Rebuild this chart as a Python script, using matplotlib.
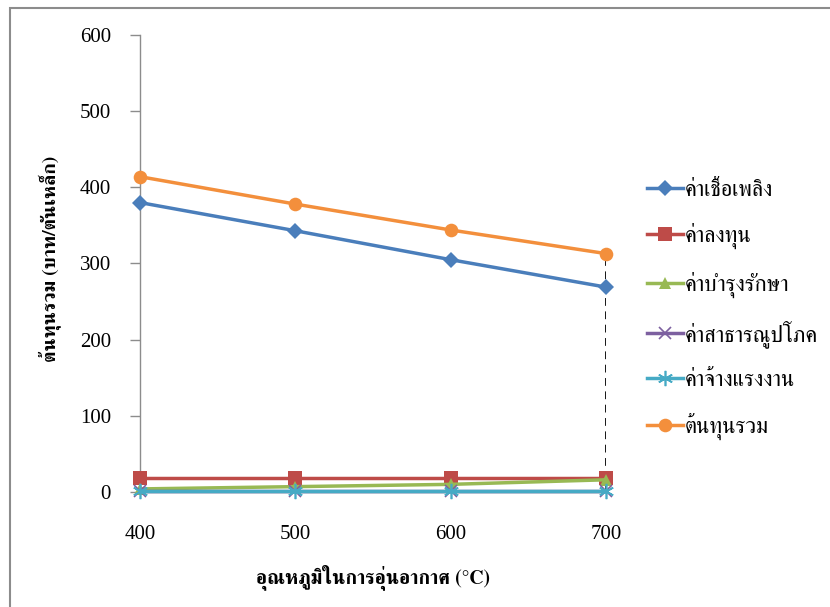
import matplotlib
matplotlib.use("Agg")
import matplotlib.pyplot as plt
from matplotlib.lines import Line2D

# อุณหภูมิอุ่นอากาศ (°C)
temps = [400, 500, 600, 700]

# ต้นทุนแต่ละรายการ (บาท/ตันเหล็ก)
fuel = [380, 343, 305, 269]
invest = [19, 19, 19, 19]
maint = [4, 7, 10, 16]
utility = [1, 1, 1, 1]
labor = [1, 1, 1, 1]
total = [414, 378, 344, 313]

names = ["ค่าเชื้อเพลิง", "ค่าลงทุน", "ค่าบำรุงรักษา", "ค่าสาธารณูปโภค", "ค่าจ้างแรงงาน", "ต้นทุนรวม"]
series = [fuel, invest, maint, utility, labor, total]
colors = ["#4A7EBB", "#BE4B48", "#98B954", "#7D60A0", "#46AAC5", "#F38F3C"]
markers = ["D", "s", "^", "x", (6, 2, 0), "o"]
msizes = [8.5, 9.5, 9, 9, 11, 9.8]

serif = ["Liberation Serif", "FreeSerif", "DejaVu Serif"]
thai = ["FreeSerif", "Liberation Serif"]


def edge_width(m):
    # เครื่องหมายแบบเส้น (x, *) ต้องมีความหนาของขอบ
    return 1.2 if m in ("x", (6, 2, 0)) else 0


fig = plt.figure(figsize=(8.3, 6.07), dpi=100)
ax = fig.add_axes([0.1687, 0.1895, 0.5614, 0.7528])

for ys, name, c, m, ms in zip(series, names, colors, markers, msizes):
    ax.plot(temps, ys, color=c, lw=2.5, marker=m, ms=ms, mfc=c, mec=c,
            mew=edge_width(m), label=name, clip_on=False, zorder=3)

# เส้นประที่อุณหภูมิสูงสุด
ax.plot([temps[-1], temps[-1]], [0, total[-1]], color="black", lw=2.0,
        ls=(0, (2.8, 2.0)), zorder=2)

ax.set_xlim(400, 700)
ax.set_ylim(0, 600)
ax.set_xticks(temps)
ax.set_yticks(range(0, 601, 100))

for s in ["top", "right"]:
    ax.spines[s].set_visible(False)
for s in ["left", "bottom"]:
    ax.spines[s].set_color("#8C8C8C")
    ax.spines[s].set_linewidth(1.0)
ax.tick_params(axis="y", direction="out", length=7, width=1, color="#8C8C8C", pad=14)
ax.tick_params(axis="x", length=0, pad=24)
for lab in ax.get_xticklabels() + ax.get_yticklabels():
    lab.set_family(serif)
    lab.set_fontsize(15)

ax.set_xlabel("อุณหภูมิในการอุ่นอากาศ (°C)", family=thai, fontsize=14.2,
              fontweight="bold")
ax.xaxis.set_label_coords(0.5, -0.158)
ax.set_ylabel("ต้นทุนรวม (บาท/ตันเหล็ก)", family=thai, fontsize=14,
              fontweight="bold")
ax.yaxis.set_label_coords(-0.17, 0.51)

handles = [Line2D([0], [0], color=c, lw=2.5, marker=m, ms=ms, mfc=c, mec=c,
                  mew=edge_width(m))
           for c, m, ms in zip(colors, markers, msizes)]
fig.legend(handles, names, loc="center left", bbox_to_anchor=(0.7795, 0.489),
           frameon=False, prop={"family": thai, "size": 16},
           borderpad=0, borderaxespad=0, handlelength=1.6,
           handletextpad=0.1, labelspacing=1.0)

# กรอบรอบแผนภูมิ
fig.add_artist(plt.Rectangle((0.012, -0.05), 1.2, 1.036, transform=fig.transFigure,
                             fill=False, ec="#8C8C8C", lw=1.5))

fig.savefig("out.png", dpi=100)
